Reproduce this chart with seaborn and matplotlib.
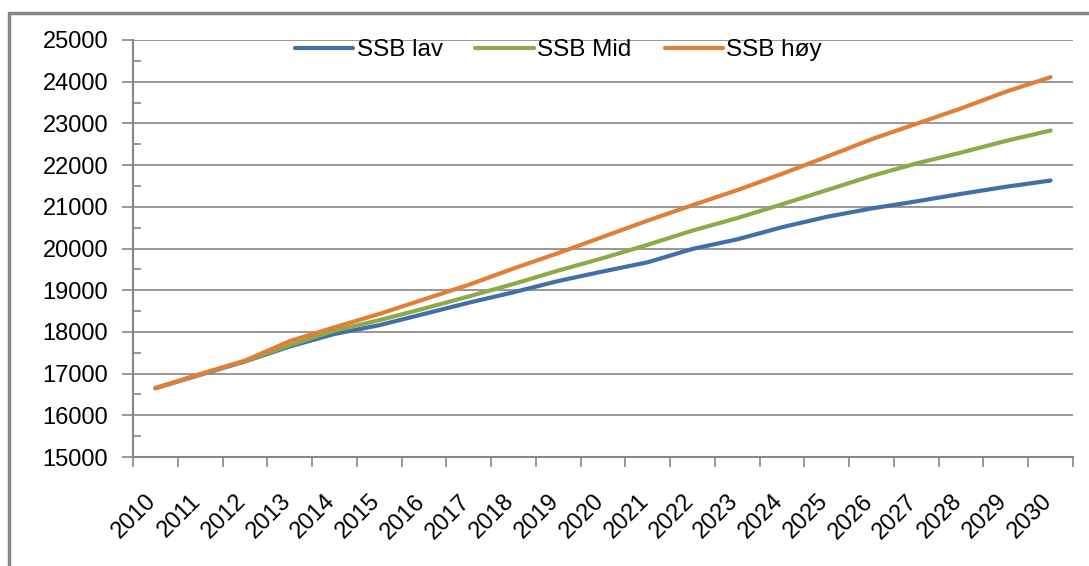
import matplotlib
matplotlib.use("Agg")
import matplotlib.pyplot as plt
from matplotlib.lines import Line2D
from matplotlib.ticker import MultipleLocator, FixedLocator, NullFormatter
from matplotlib.transforms import ScaledTranslation
import numpy as np
import pandas as pd
import seaborn as sns

# data
years = list(range(2010, 2031))
ssb_lav = [16650, 16970, 17290, 17650, 17950, 18160, 18430, 18700, 18950, 19220,
           19450, 19670, 19990, 20220, 20510, 20760, 20960, 21130, 21310, 21480, 21630]
ssb_mid = [16650, 16980, 17300, 17680, 18030, 18280, 18560, 18850, 19150, 19470,
           19770, 20090, 20430, 20730, 21060, 21400, 21740, 22040, 22300, 22580, 22830]
ssb_hoy = [16650, 16990, 17310, 17780, 18110, 18430, 18780, 19130, 19520, 19890,
           20280, 20670, 21040, 21400, 21790, 22200, 22620, 22990, 23360, 23760, 24110]
series_names = ["SSB lav", "SSB Mid", "SSB høy"]
colors = ["#4170A8", "#8CAA48", "#E07F38"]

pos = np.arange(len(years))
df = pd.concat([
    pd.DataFrame({"pos": pos, "value": vals, "serie": name})
    for name, vals in zip(series_names, [ssb_lav, ssb_mid, ssb_hoy])
])

sns.set_style("white")
plt.rcParams["font.family"] = ["Liberation Sans", "DejaVu Sans"]
plt.rcParams["text.color"] = "black"

fig = plt.figure(figsize=(10.89, 5.66), dpi=100)
W, H = 1089, 566
ax = fig.add_axes([133 / W, 1 - 457 / H, (1073 - 133) / W, (457 - 40) / H])

sns.lineplot(data=df, x="pos", y="value", hue="serie", palette=colors,
             linewidth=3, ax=ax, legend=True)

grey = "#868686"
ax.set_xlim(-0.5, len(years) - 0.5)
ax.set_ylim(15000, 25000)
ax.yaxis.set_major_locator(MultipleLocator(1000))
ax.yaxis.set_minor_locator(MultipleLocator(500))
ax.grid(axis="y", which="major", color=grey, linewidth=1.2)
ax.set_axisbelow(True)

# category boundaries as ticks, labels at the centres
ax.xaxis.set_major_locator(FixedLocator(np.arange(-0.5, len(years), 1.0)))
ax.xaxis.set_major_formatter(NullFormatter())
ax.xaxis.set_minor_locator(FixedLocator(pos))
ax.set_xticklabels([str(y) for y in years], minor=True, rotation=45,
                   ha="right", va="top", rotation_mode="anchor", fontsize=17)
ax.tick_params(axis="x", which="major", bottom=True, direction="out", length=7,
               color=grey, width=1.2)
ax.tick_params(axis="x", which="minor", bottom=True, length=0, pad=24,
               labelcolor="black")
ax.tick_params(axis="y", which="major", left=True, direction="out", length=8,
               color=grey, width=1.2, labelsize=17, pad=10, labelcolor="black")
ax.tick_params(axis="y", which="minor", left=True, direction="in", length=6,
               color=grey, width=1.2)
for lbl in ax.get_xticklabels(minor=True):
    lbl.set_transform(lbl.get_transform() + ScaledTranslation(-10 / 100, 0, fig.dpi_scale_trans))

for side in ["top", "right"]:
    ax.spines[side].set_visible(False)
for side in ["left", "bottom"]:
    ax.spines[side].set_color(grey)
    ax.spines[side].set_linewidth(1.5)

ax.set_xlabel("")
ax.set_ylabel("")

handles, labels = ax.get_legend_handles_labels()
ax.legend(handles, labels, loc="center left", bbox_to_anchor=(0.172, 0.976),
          ncol=3, frameon=False, fontsize=17.5, handlelength=2.4,
          handletextpad=0.15, columnspacing=1.35, borderpad=0, borderaxespad=0)

# outer chart frame (left and top edges visible)
fig.add_artist(Line2D([9 / W, 9 / W], [0, 1 - 13 / H], transform=fig.transFigure,
                      color=grey, linewidth=2.5))
fig.add_artist(Line2D([9 / W, 1], [1 - 13 / H, 1 - 13 / H], transform=fig.transFigure,
                      color=grey, linewidth=2.5))

fig.savefig("out.png", dpi=100)
